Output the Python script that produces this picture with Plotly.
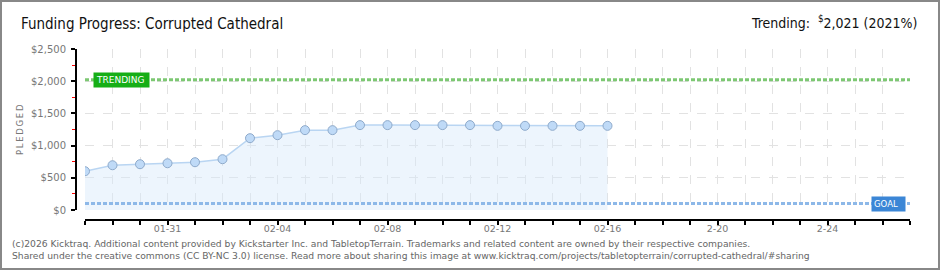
import plotly.graph_objects as go
import pandas as pd

# ---- data ----
dates = pd.date_range("2026-01-28", "2026-02-16", freq="D").strftime("%Y-%m-%d").tolist()
pledged = [602, 695, 711, 726, 742, 789, 1115, 1162, 1240, 1240,
           1318, 1318, 1318, 1318, 1318, 1307, 1307, 1307, 1307, 1307]
trending_value = 2021
goal_value = 100
axis_start = "2026-01-28"
axis_end = "2026-02-27"
tick_dates = pd.date_range(axis_start, axis_end, freq="D").strftime("%Y-%m-%d").tolist()
label_map = {"2026-01-31": "01-31", "2026-02-04": "02-04", "2026-02-08": "02-08",
             "2026-02-12": "02-12", "2026-02-16": "02-16", "2026-02-20": "2-20",
             "2026-02-24": "2-24"}
tick_text = [label_map.get(d, " ") for d in tick_dates]
y_tickvals = [0, 500, 1000, 1500, 2000, 2500]
y_ticktext = ["$0", "$500", "$1,000", "$1,500", "$2,000", "$2,500"]

# ---- geometry helpers (pixels -> paper) ----
W, H = 940, 270
ML, MR, MT, MB = 76, 30, 49, 50
PW, PH = W - ML - MR, H - MT - MB
def px(x):
    return (x - ML) / PW
def py(y):
    return (H - MB - y) / PH

fig = go.Figure()
fig.add_trace(go.Scatter(
    x=dates, y=pledged, mode="lines+markers",
    line=dict(color="#b9d5f2", width=1.5),
    fill="tozeroy", fillcolor="rgba(214,232,250,0.45)",
    marker=dict(size=9, color="#bfdaf7", line=dict(color="#8eaacb", width=1)),
    hoverinfo="x+y", showlegend=False,
))

shapes = [
    dict(type="line", xref="x", yref="y", x0=axis_start, x1=axis_end,
         y0=trending_value, y1=trending_value,
         line=dict(color="#7dc873", width=3, dash="4px,2px")),
    dict(type="line", xref="x", yref="y", x0=axis_start, x1=axis_end,
         y0=goal_value, y1=goal_value,
         line=dict(color="#8db8e8", width=3, dash="4px,2px")),
    dict(type="rect", xref="paper", yref="paper",
         x0=px(1), x1=px(939), y0=py(269), y1=py(1),
         line=dict(color="#888888", width=2), fillcolor="rgba(0,0,0,0)", layer="above"),
]

annotations = [
    dict(text="Funding Progress: Corrupted Cathedral", xref="paper", yref="paper",
         x=px(19), y=py(24), xanchor="left", yanchor="middle", showarrow=False,
         font=dict(family="DejaVu Sans Condensed", size=15, color="#111111")),
    dict(text="Trending:  <sup>$</sup>2,021 (2021%)", xref="paper", yref="paper",
         x=px(919), y=py(22), xanchor="right", yanchor="middle", showarrow=False,
         font=dict(family="DejaVu Sans Condensed", size=14, color="#111111")),
    dict(text="P\u2009L\u2009E\u2009D\u2009G\u2009E\u2009D", xref="paper", yref="paper",
         x=px(20), y=py(130),
         xanchor="center", yanchor="middle", textangle=-90, showarrow=False,
         font=dict(family="DejaVu Sans", size=8.5, color="#777777")),
    dict(text="TRENDING ", xref="paper", yref="y", x=px(93), y=trending_value,
         xanchor="left", yanchor="middle", showarrow=False, bgcolor="#16ae16",
         borderpad=2, font=dict(family="DejaVu Sans", size=9, color="white")),
    dict(text="GOAL  ", xref="paper", yref="y", x=px(906), y=goal_value,
         xanchor="right", yanchor="middle", showarrow=False, bgcolor="#3b86d6",
         borderpad=2, font=dict(family="DejaVu Sans", size=8.5, color="white")),
    dict(text="(c)2026 Kicktraq. Additional content provided by Kickstarter Inc. and TabletopTerrain. "
              "Trademarks and related content are owned by their respective companies.<br>"
              "Shared under the creative commons (CC BY-NC 3.0) license. Read more about sharing this image at "
              "www.kicktraq.com/projects/tabletopterrain/corrupted-cathedral/#sharing",
         xref="paper", yref="paper", x=px(10), y=py(236), xanchor="left", yanchor="top",
         align="left", showarrow=False,
         font=dict(family="DejaVu Sans", size=9.2, color="#666666")),
]

fig.update_layout(
    width=W, height=H, margin=dict(l=ML, r=MR, t=MT, b=MB, pad=0),
    paper_bgcolor="white", plot_bgcolor="white",
    shapes=shapes, annotations=annotations,
    xaxis=dict(type="date", domain=[9 / PW, 1], anchor="free", position=0,
               range=[axis_start, axis_end],
               tickmode="array", tickvals=tick_dates, ticktext=tick_text,
               ticks="outside", ticklen=4, tickwidth=1.5, tickcolor="black",
               showline=True, linecolor="black", linewidth=2,
               showgrid=True, gridcolor="#e2e2e2", griddash="dash", gridwidth=1,
               zeroline=False, ticklabelstandoff=-4,
               tickfont=dict(family="DejaVu Sans", size=9.5, color="#777777")),
    yaxis=dict(domain=[10 / PH, 1], anchor="free", position=0,
               range=[0, 2500], tickmode="array", tickvals=y_tickvals, ticktext=y_ticktext,
               ticks="outside", ticklen=4, tickwidth=1.5, tickcolor="black",
               minor=dict(tickmode="array", tickvals=[250, 750, 1250, 1750, 2250],
                          ticks="outside", ticklen=3, tickcolor="red", tickwidth=1, showgrid=False),
               showline=True, linecolor="black", linewidth=2,
               showgrid=True, gridcolor="#e2e2e2", griddash="dash", gridwidth=1,
               zeroline=False, ticklabelstandoff=3,
               tickfont=dict(family="DejaVu Sans", size=10, color="#777777")),
)

fig.write_html("out.html")
